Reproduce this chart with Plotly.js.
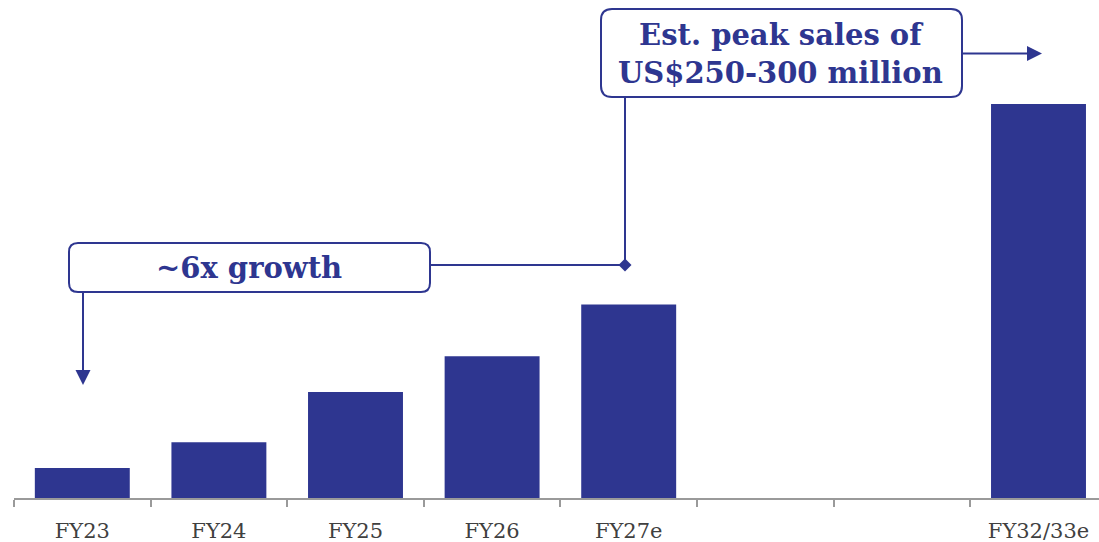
<!DOCTYPE html>
<html>
<head>
<meta charset="utf-8">
<script src="https://cdn.plot.ly/plotly-3.0.1.min.js"></script>
<style>
  html, body { margin: 0; padding: 0; background: #ffffff; }
  #chart { width: 1099px; height: 542px; }
</style>
</head>
<body>
<div id="chart"></div>
<script>
// ---- Data (US$ million) ----
const categories = ['FY23', 'FY24', 'FY25', 'FY26', 'FY27e', '', '', 'FY32/33e'];
const salesValues = [21, 39, 74, 99, 135, null, null, 275];
const peakLabel = 'Est. peak sales of<br>US$250-300 million';
const growthLabel = '~6x growth';

// ---- Styling ----
const BLUE = '#2e3690';
const W = 1099, H = 542;
const M = { l: 14, r: 0, t: 0, b: 44 };
const plotW = W - M.l - M.r, plotH = H - M.t - M.b;
const slotPx = 136.6;
const yMax = 347.6;

const xIdx = categories.map((c, i) => i);
const boundaries = categories.map((c, i) => i - 0.5).concat([categories.length - 0.5]);

// pixel -> paper helpers for decorations
const px = x => (x - M.l) / plotW;
const py = y => (M.t + plotH - y) / plotH;

function roundRect(x0, y0, x1, y1, r) {
  const X0 = px(x0), X1 = px(x1), Y0 = py(y0), Y1 = py(y1);
  const rx = r / plotW, ry = r / plotH;
  return `M ${X0 + rx},${Y0} L ${X1 - rx},${Y0} Q ${X1},${Y0} ${X1},${Y0 - ry} ` +
         `L ${X1},${Y1 + ry} Q ${X1},${Y1} ${X1 - rx},${Y1} ` +
         `L ${X0 + rx},${Y1} Q ${X0},${Y1} ${X0},${Y1 + ry} ` +
         `L ${X0},${Y0 - ry} Q ${X0},${Y0} ${X0 + rx},${Y0} Z`;
}
function poly(pts) {
  return 'M ' + pts.map(p => `${px(p[0])},${py(p[1])}`).join(' L ') + ' Z';
}
function line(x0, y0, x1, y1) {
  return { type: 'line', xref: 'paper', yref: 'paper', x0: px(x0), y0: py(y0), x1: px(x1), y1: py(y1),
           line: { color: BLUE, width: 2 }, layer: 'above' };
}

const shapes = [
  // connectors
  line(962, 53.5, 1028, 53.5),
  line(430, 265, 625, 265),
  line(625, 265, 625, 97),
  line(83, 292, 83, 371),
  // arrow heads & diamond
  { type: 'path', xref: 'paper', yref: 'paper', path: poly([[1027, 46], [1042, 53.5], [1027, 61]]),
    fillcolor: BLUE, line: { width: 0 } },
  { type: 'path', xref: 'paper', yref: 'paper', path: poly([[75.5, 370], [90.5, 370], [83, 385]]),
    fillcolor: BLUE, line: { width: 0 } },
  { type: 'path', xref: 'paper', yref: 'paper', path: poly([[625, 258.5], [631.5, 265], [625, 271.5], [618.5, 265]]),
    fillcolor: BLUE, line: { width: 0 } },
  // rounded boxes
  { type: 'path', xref: 'paper', yref: 'paper', path: roundRect(601, 9, 962, 97, 11),
    fillcolor: '#ffffff', line: { color: BLUE, width: 2 } },
  { type: 'path', xref: 'paper', yref: 'paper', path: roundRect(69, 243, 430, 292, 9),
    fillcolor: '#ffffff', line: { color: BLUE, width: 2 } }
];

const annotations = [
  { xref: 'paper', yref: 'paper', x: px(780), y: py(54), text: '<b>' + peakLabel + '</b>', showarrow: false,
    font: { family: 'DejaVu Serif', size: 29, color: BLUE }, xanchor: 'center', yanchor: 'middle', align: 'center' },
  { xref: 'paper', yref: 'paper', x: px(249), y: py(268), text: '<b>' + growthLabel + '</b>', showarrow: false,
    font: { family: 'DejaVu Serif', size: 29, color: BLUE }, xanchor: 'center', yanchor: 'middle' }
];

const trace = {
  type: 'bar',
  x: xIdx,
  y: salesValues,
  width: 0.695,
  marker: { color: BLUE, line: { width: 0 } },
  hoverinfo: 'skip'
};

const layout = {
  width: W, height: H,
  margin: M,
  paper_bgcolor: '#ffffff', plot_bgcolor: '#ffffff',
  showlegend: false,
  xaxis: {
    range: [-0.5, -0.5 + plotW / slotPx],
    tickmode: 'array', tickvals: xIdx, ticktext: categories,
    ticks: '', showgrid: false, zeroline: false,
    showline: true, linecolor: '#9a9a9a', linewidth: 2,
    tickfont: { family: 'DejaVu Serif', size: 21, color: '#404040' },
    ticklabelstandoff: 13,
    minor: { tickmode: 'array', tickvals: boundaries, ticks: 'outside', ticklen: 7, tickwidth: 2, tickcolor: '#9a9a9a', showgrid: false }
  },
  yaxis: { range: [0, yMax], visible: false, showgrid: false, zeroline: false, fixedrange: true },
  shapes: shapes,
  annotations: annotations
};

Plotly.newPlot('chart', [trace], layout, { staticPlot: true, displayModeBar: false });
</script>
</body>
</html>
